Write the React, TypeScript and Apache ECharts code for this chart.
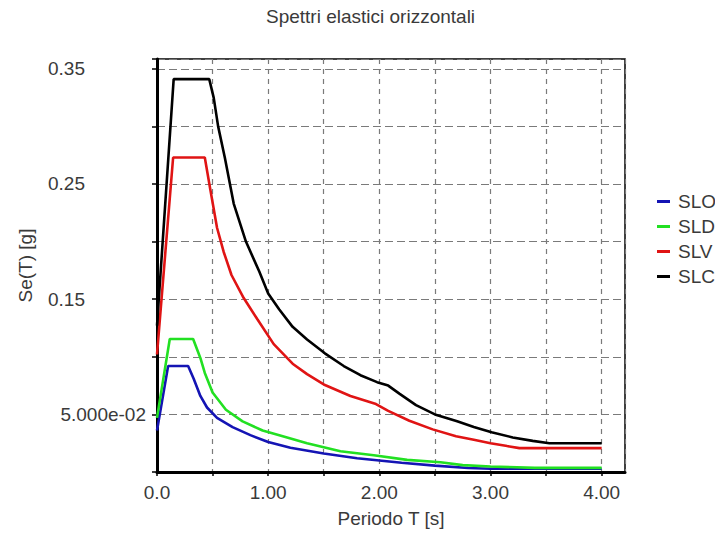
import React, { useEffect, useRef } from "react";
import * as echarts from "echarts";

// ---- data ----
const seriesNames = ["SLO", "SLD", "SLV", "SLC"];
const seriesColors = ["#1414b4", "#22e022", "#e01414", "#000000"];

const sloT = [0, 0.1, 0.28, 0.33, 0.39, 0.45, 0.54, 0.68, 0.84, 1.0, 1.2, 1.5, 1.8, 2.0, 2.2, 2.5, 2.8, 3.0, 4.0];
const sloSe = [0.036, 0.092, 0.092, 0.081, 0.066, 0.056, 0.047, 0.039, 0.032, 0.026, 0.021, 0.016, 0.012, 0.010, 0.008, 0.0055, 0.0035, 0.0028, 0.0028];

const sldT = [0, 0.115, 0.325, 0.39, 0.43, 0.5, 0.62, 0.77, 0.95, 1.1, 1.35, 1.65, 1.95, 2.25, 2.55, 2.75, 3.0, 3.4, 4.0];
const sldSe = [0.047, 0.1155, 0.1155, 0.099, 0.086, 0.069, 0.054, 0.044, 0.036, 0.032, 0.025, 0.018, 0.0145, 0.0105, 0.0085, 0.006, 0.0048, 0.0036, 0.0036];

const slvT = [0, 0.145, 0.43, 0.48, 0.54, 0.6, 0.67, 0.78, 0.9, 1.05, 1.22, 1.35, 1.5, 1.74, 1.97, 2.08, 2.27, 2.48, 2.69, 2.85, 3.0, 3.15, 3.26, 4.0];
const slvSe = [0.102, 0.273, 0.273, 0.245, 0.212, 0.191, 0.171, 0.151, 0.133, 0.111, 0.094, 0.085, 0.076, 0.066, 0.059, 0.053, 0.0445, 0.037, 0.031, 0.028, 0.025, 0.0225, 0.0207, 0.0207];

const slcT = [0, 0.15, 0.47, 0.51, 0.55, 0.61, 0.69, 0.8, 0.92, 1.0, 1.1, 1.22, 1.35, 1.51, 1.68, 1.83, 1.98, 2.08, 2.18, 2.33, 2.5, 2.7, 2.85, 3.01, 3.2, 3.38, 3.53, 4.0];
const slcSe = [0.127, 0.341, 0.341, 0.325, 0.3, 0.273, 0.233, 0.2, 0.174, 0.155, 0.141, 0.126, 0.115, 0.103, 0.092, 0.084, 0.078, 0.075, 0.068, 0.058, 0.05, 0.044, 0.039, 0.0345, 0.03, 0.027, 0.025, 0.025];

const xLabelValues = [0, 1, 2, 3, 4];
const xLabelTexts = ["0.0", "1.00", "2.00", "3.00", "4.00"];
const yLabelValues = [0.05, 0.15, 0.25, 0.35];
const yLabelTexts = ["5.000e-02", "0.15", "0.25", "0.35"];

const titleText = "Spettri elastici orizzontali";
const xName = "Periodo T [s]";
const yName = "Se(T) [g]";

const FONT = "'Liberation Sans', Arial, sans-serif";
const TEXT_COLOR = "#3a3a3a";
const FS = 19;

function zip(t: number[], v: number[]) {
  return t.map((x, i) => [x, v[i]]);
}

export default function App() {
  const ref = useRef<HTMLDivElement>(null);

  useEffect(() => {
    if (!ref.current) return;
    const chart = echarts.init(ref.current, undefined, { renderer: "svg" });
    const allT = [sloT, sldT, slvT, slcT];
    const allSe = [sloSe, sldSe, slvSe, slcSe];

    const findLabel = (vals: number[], texts: string[], v: number) => {
      for (let i = 0; i < vals.length; i++) {
        if (Math.abs(vals[i] - v) < 1e-6) return texts[i];
      }
      return null;
    };

    chart.setOption({
      animation: false,
      backgroundColor: "#ffffff",
      title: {
        text: titleText,
        left: 266,
        top: 7,
        padding: 0,
        textStyle: { fontFamily: FONT, fontSize: FS, fontWeight: "normal", color: TEXT_COLOR },
      },
      legend: {
        orient: "vertical",
        left: 657,
        top: 192,
        padding: 0,
        itemWidth: 13,
        itemHeight: 3,
        itemGap: 6,
        icon: "rect",
        data: seriesNames,
        textStyle: { fontFamily: FONT, fontSize: FS, color: TEXT_COLOR, padding: [0, 0, 0, 3] },
      },
      grid: {
        left: 157,
        top: 59,
        right: 90,
        bottom: 58,
        show: true,
        borderColor: "#000",
        borderWidth: 1.5,
        backgroundColor: "#fff",
      },
      xAxis: {
        type: "value",
        min: 0,
        max: 4.21,
        interval: 0.5,
        name: xName,
        nameLocation: "middle",
        nameGap: 37,
        nameTextStyle: { fontFamily: FONT, fontSize: FS, color: TEXT_COLOR },
        axisLine: { show: true, onZero: false, lineStyle: { color: "#000", width: 3 } },
        axisTick: { show: true, length: 4, lineStyle: { color: "#000", width: 1.5 } },
        axisLabel: {
          margin: 11,
          fontFamily: FONT,
          fontSize: FS,
          color: TEXT_COLOR,
          showMaxLabel: false,
          formatter: (v: number) => findLabel(xLabelValues, xLabelTexts, v) ?? "",
        },
        splitLine: { show: true, lineStyle: { color: "#7a7a7a", type: [5, 5], width: 1.2 } },
      },
      yAxis: {
        type: "value",
        min: 0,
        max: 0.3585,
        interval: 0.05,
        name: yName,
        nameLocation: "middle",
        nameRotate: 90,
        nameGap: 122,
        nameTextStyle: { fontFamily: FONT, fontSize: FS, color: TEXT_COLOR },
        axisLine: { show: true, onZero: false, lineStyle: { color: "#000", width: 3 } },
        axisTick: { show: true, length: 5, lineStyle: { color: "#000", width: 1.5 } },
        axisLabel: {
          margin: 11,
          fontFamily: FONT,
          fontSize: FS,
          color: TEXT_COLOR,
          formatter: (v: number) => {
            const t = findLabel(yLabelValues, yLabelTexts, v);
            if (t === null) return "";
            return t.indexOf("e") >= 0 ? "{a|" + t + "}" : "{b|" + t + "}";
          },
          rich: {
            a: { fontFamily: FONT, fontSize: FS, color: TEXT_COLOR },
            b: { fontFamily: FONT, fontSize: FS, color: TEXT_COLOR, padding: [0, 61, 0, 0] },
          },
        },
        splitLine: { show: true, lineStyle: { color: "#7a7a7a", type: [8, 4], width: 1.2 } },
      },
      series: seriesNames.map((name, i) => ({
        name,
        type: "line",
        data: zip(allT[i], allSe[i]),
        showSymbol: false,
        symbol: "none",
        color: seriesColors[i],
        lineStyle: { color: seriesColors[i], width: 2.6 },
        z: 2 + i,
      })),
    });

    return () => chart.dispose();
  }, []);

  return (
    <div
      ref={ref}
      style={{ position: "fixed", left: 0, top: 0, width: 715, height: 533, background: "#fff" }}
    />
  );
}
